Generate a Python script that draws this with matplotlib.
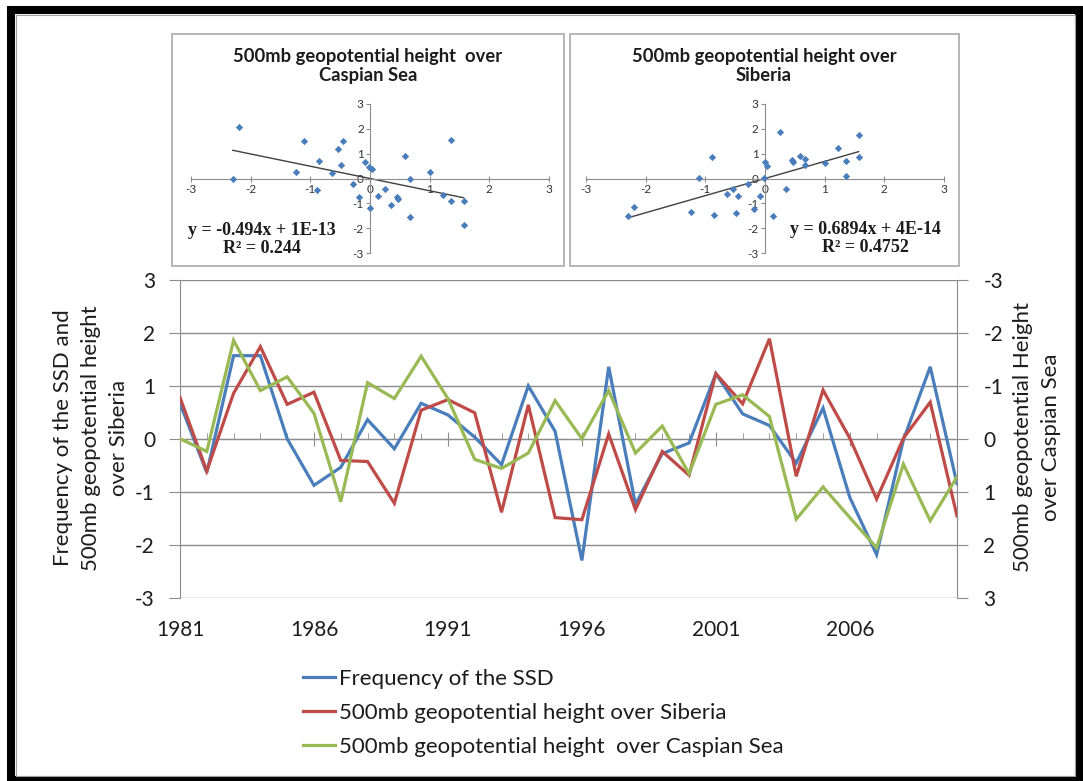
import numpy as np
import matplotlib
matplotlib.use("Agg")
import matplotlib.pyplot as plt
from matplotlib.patches import Rectangle

# ---- data -------------------------------------------------------------
years = list(range(1981, 2011))
ssd = [0.67, -0.64, 1.57, 1.57, 0.0, -0.88, -0.54, 0.36, -0.19, 0.67,
       0.45, 0.03, -0.49, 1.0, 0.14, -2.3, 1.36, -1.24, -0.28, -0.08,
       1.23, 0.47, 0.25, -0.46, 0.58, -1.11, -2.19, -0.02, 1.36, -0.85]
siberia = [0.78, -0.61, 0.86, 1.74, 0.65, 0.88, -0.41, -0.43, -1.22, 0.54,
           0.74, 0.49, -1.39, 0.64, -1.49, -1.53, 0.09, -1.34, -0.24, -0.69,
           1.23, 0.66, 1.89, -0.71, 0.92, 0.01, -1.14, 0.01, 0.69, -1.46]
caspian = [0.0, 0.24, -1.86, -0.91, -1.17, -0.48, 1.19, -1.06, -0.76, -1.56,
           -0.76, 0.39, 0.56, 0.27, -0.72, 0.0, -0.91, 0.27, -0.24, 0.66,
           -0.65, -0.83, -0.42, 1.52, 0.91, 1.49, 2.06, 0.48, 1.55, 0.72]
year_ticks = [1981, 1986, 1991, 1996, 2001, 2006]
series_names = ["Frequency of the SSD",
                "500mb geopotential height over Siberia",
                "500mb geopotential height  over Caspian Sea"]
# linear fits (slope, intercept, R^2) shown in the scatter panels
fit_caspian = (-0.494, 1e-13, 0.244)
fit_siberia = (0.6894, 4e-14, 0.4752)

# ---- style ------------------------------------------------------------
plt.rcParams["font.family"] = ["Lato", "DejaVu Sans"]
plt.rcParams["axes.unicode_minus"] = False
BLUE, RED, GREEN = "#4A7EBB", "#BE4B48", "#98B954"
GRID = "#8c8c8c"
TXT = "#1c1c1c"

W, H = 1083, 781
fig = plt.figure(figsize=(W / 100, H / 100), dpi=100)


def fx(px):
    return px / W


def fy(py):
    return 1 - py / H


def frect(x0, y0, x1, y1):
    return [x0 / W, 1 - y1 / H, (x1 - x0) / W, (y1 - y0) / H]


# ---- main time-series chart -------------------------------------------
ax = fig.add_axes(frect(180, 280, 957, 597.5))
l1, = ax.plot(years, ssd, color=BLUE, lw=2.3, solid_joinstyle="miter", zorder=3)
l2, = ax.plot(years, siberia, color=RED, lw=2.3, solid_joinstyle="miter", zorder=3)
ax.set_xlim(years[0], years[-1])
ax.set_ylim(-3, 3)
ax.set_yticks(range(-3, 4))
ax.grid(axis="y", color=GRID, lw=1.0)
ax.set_axisbelow(True)
for s in ("top", "right", "bottom"):
    ax.spines[s].set_visible(False)
ax.spines["left"].set_color(GRID)
ax.tick_params(axis="y", direction="out", length=8, color=GRID, pad=10,
               labelsize=15, labelcolor=TXT)
ax.set_xticks(year_ticks)
ax.set_xticklabels([str(y) for y in year_ticks])
ax.tick_params(axis="x", length=0, pad=16, labelsize=15, labelcolor=TXT)

# category axis line crossing at zero
sec = ax.secondary_xaxis(0.5)
sec.set_xticks(year_ticks)
sec.set_xticks(years, minor=True)
sec.tick_params(which="both", labeltop=False, labelbottom=False, color=GRID)
sec.tick_params(which="major", direction="inout", length=10)
sec.tick_params(which="minor", direction="out", length=4)
for s in sec.spines.values():
    s.set_color(GRID)

# Caspian Sea series on an inverted right-hand axis
ax2 = ax.twinx()
l3, = ax2.plot(years, caspian, color=GREEN, lw=2.3, solid_joinstyle="miter", zorder=3)
ax2.set_ylim(3, -3)
ax2.set_yticks(range(-3, 4))
for s in ("top", "left", "bottom"):
    ax2.spines[s].set_visible(False)
ax2.spines["right"].set_color(GRID)
ax2.tick_params(axis="y", direction="out", length=8, color=GRID, pad=11,
                labelsize=15, labelcolor=TXT)

fig.text(fx(91), fy(438),
         "Frequency of the SSD and\n500mb geopotential height\nover Siberia",
         rotation=90, ha="center", va="center", ma="center",
         fontsize=16, color=TXT, linespacing=1.5)
fig.text(fx(1037), fy(437),
         "500mb geopotential Height\nover Caspian Sea",
         rotation=90, ha="center", va="center", ma="center",
         fontsize=16, color=TXT, linespacing=1.5)

fig.legend([l1, l2, l3], series_names, loc="upper left",
           bbox_to_anchor=(fx(303), fy(669)), frameon=False,
           fontsize=16, handlelength=1.45, handletextpad=0.15,
           labelspacing=0.62, borderpad=0, borderaxespad=0,
           labelcolor=TXT)


# ---- scatter panels ---------------------------------------------------
def scatter_panel(box, area, xs, ys, fit, title, title_xy, eq_xy):
    x0, y0, x1, y1 = box
    fig.add_artist(Rectangle((fx(x0), fy(y1)), (x1 - x0) / W, (y1 - y0) / H,
                             transform=fig.transFigure, fill=False,
                             ec="#b0b0b0", lw=1.3))
    a = fig.add_axes(frect(*area))
    a.set_xlim(-3, 3)
    a.set_ylim(-3, 3)
    a.patch.set_alpha(0)
    a.spines["left"].set_position(("data", 0))
    a.spines["bottom"].set_position(("data", 0))
    a.spines["top"].set_visible(False)
    a.spines["right"].set_visible(False)
    for s in ("left", "bottom"):
        a.spines[s].set_color(GRID)
    a.set_xticks(range(-3, 4))
    a.set_yticks(range(-3, 4))
    a.tick_params(labelsize=8.5, labelcolor="#333333", color=GRID, pad=1.5)
    a.tick_params(axis="x", direction="inout", length=5)
    a.tick_params(axis="y", direction="out", length=3)
    a.scatter(xs, ys, marker="D", s=14, color=BLUE, lw=0, zorder=3)
    slope, icpt, r2 = fit
    xl = np.array([min(xs), max(xs)])
    a.plot(xl, slope * xl + icpt, color="#404040", lw=1.0, zorder=2)
    fig.text(fx(title_xy[0]), fy(title_xy[1]), title, ha="center", va="center",
             ma="center", fontsize=13.2, weight="bold", color=TXT,
             linespacing=1.2)
    eq = "y = {}x + {}\nR² = {}".format(slope, f"{icpt:.0E}", r2)
    fig.text(fx(eq_xy[0]), fy(eq_xy[1]), eq, ha="center", va="center",
             ma="center", fontsize=13, weight="bold", color=TXT,
             family=["Liberation Serif", "DejaVu Serif"], linespacing=1.1)
    return a


scatter_panel((172, 34, 564, 266), (191, 104, 549, 253), ssd, caspian,
              fit_caspian, "500mb geopotential height  over\nCaspian Sea",
              (368, 66), (262, 239.5))
scatter_panel((570, 34, 959, 266), (586, 104, 944, 253), ssd, siberia,
              fit_siberia, "500mb geopotential height over\nSiberia",
              (764, 66), (865, 238.5))

# ---- outer frame ------------------------------------------------------
fig.add_artist(Rectangle((fx(11), fy(779.5)), (1079 - 11) / W, (779.5 - 10) / H,
                         transform=fig.transFigure, fill=False, ec="black",
                         lw=5.8))
fig.add_artist(Rectangle((fx(15.5), fy(775.5)), (1074.5 - 15.5) / W,
                         (775.5 - 14.5) / H, transform=fig.transFigure,
                         fill=False, ec="#a0a0a0", lw=0.8))

fig.savefig("out.png", dpi=100)
